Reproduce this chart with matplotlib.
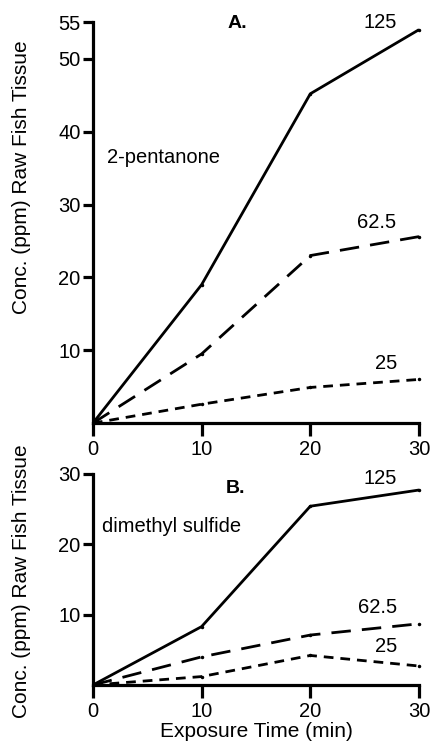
import matplotlib.pyplot as plt

plt.rcParams['font.family'] = ['Liberation Sans', 'DejaVu Sans']

# ---------------------------------------------------------------- data
time_min = [0, 10, 20, 30]

# panel A: 2-pentanone
a_125 = [0, 19.0, 45.2, 54.0]
a_625 = [0, 9.5, 23.0, 25.6]
a_25 = [0, 2.6, 4.9, 6.0]

# panel B: dimethyl sulfide
b_125 = [0, 8.3, 25.4, 27.7]
b_625 = [0, 4.0, 7.1, 8.7]
b_25 = [0, 1.2, 4.2, 2.7]

a_yticks = [10, 20, 30, 40, 50, 55]
b_yticks = [10, 20, 30]
xticks = [0, 10, 20, 30]
ylabel = "Conc. (ppm) Raw Fish Tissue"

LW = 2.0
FS = 14.5
styles = {
    "125": dict(linestyle="-"),
    "62.5": dict(linestyle=(0, (7, 4))),
    "25": dict(linestyle=(0, (3.5, 2.5))),
}

fig = plt.figure(figsize=(4.32, 7.45), dpi=100)
ax_a = fig.add_axes([0.215, 0.432, 0.755, 0.538])
ax_b = fig.add_axes([0.215, 0.0805, 0.755, 0.2835])


def style_axis(ax, ymax, yticks, label_y):
    ax.set_xlim(0, 30)
    ax.set_ylim(0, ymax)
    for s in ["top", "right"]:
        ax.spines[s].set_visible(False)
    for s in ["left", "bottom"]:
        ax.spines[s].set_linewidth(2.3)
    ax.set_xticks(xticks)
    ax.set_yticks(yticks)
    ax.tick_params(axis="y", direction="out", length=7, width=2.3, labelsize=FS, pad=2)
    ax.tick_params(axis="x", direction="out", length=9, width=2.3, labelsize=FS, pad=3)
    ax.set_ylabel(ylabel, fontsize=FS + 0.5)
    ax.yaxis.set_label_coords(-0.19, label_y)


def draw_series(ax, series):
    for name, vals in series:
        ax.plot(time_min, vals, color="black", lw=LW, clip_on=False,
                solid_capstyle="butt", dash_capstyle="butt", **styles[name])
        ax.plot(time_min[1:], vals[1:], ".", color="black", ms=3, clip_on=False)


style_axis(ax_a, 55, a_yticks, 0.613)
draw_series(ax_a, [("125", a_125), ("62.5", a_625), ("25", a_25)])
ax_a.text(13.3, 54.9, "A.", fontsize=14, fontweight="bold", ha="center", va="center")
ax_a.text(26.4, 55.0, "125", fontsize=FS, ha="center", va="center")
ax_a.text(1.3, 36.4, "2-pentanone", fontsize=FS, ha="left", va="center")
ax_a.text(26.1, 27.5, "62.5", fontsize=FS, ha="center", va="center")
ax_a.text(27.0, 8.2, "25", fontsize=FS, ha="center", va="center")

style_axis(ax_b, 30, b_yticks, 0.49)
draw_series(ax_b, [("125", b_125), ("62.5", b_625), ("25", b_25)])
ax_b.text(13.1, 27.9, "B.", fontsize=14, fontweight="bold", ha="center", va="center")
ax_b.text(26.4, 29.3, "125", fontsize=FS, ha="center", va="center")
ax_b.text(0.8, 22.5, "dimethyl sulfide", fontsize=FS, ha="left", va="center")
ax_b.text(26.2, 11.0, "62.5", fontsize=FS, ha="center", va="center")
ax_b.text(27.0, 5.5, "25", fontsize=FS, ha="center", va="center")
ax_b.set_xlabel("Exposure Time (min)", fontsize=FS + 0.5, labelpad=1)

fig.savefig("out.png", dpi=100)
